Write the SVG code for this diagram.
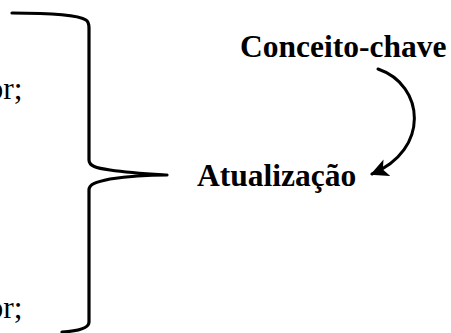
<svg xmlns="http://www.w3.org/2000/svg" width="451" height="333" viewBox="0 0 451 333">
  <defs>
    <style>
      .lbl { font-family: "Liberation Serif", "Times New Roman", serif; font-size: 31.5px; fill: #000; }
      .bold { font-weight: bold; }
      .stroke { fill: none; stroke: #000; stroke-linecap: round; stroke-linejoin: round; }
    </style>
    <marker id="arrowhead" viewBox="0 0 10 10" refX="9" refY="5" markerWidth="6" markerHeight="6" orient="auto" markerUnits="strokeWidth">
      <path d="M0,0 L10,5 L0,10 L2.5,5 Z" fill="#000"/>
    </marker>
  </defs>

  <!-- list items (clipped at left edge) -->
  <g id="item-top">
    <text class="lbl" x="22.5" y="99" text-anchor="end">or;</text>
  </g>
  <g id="item-bottom">
    <text class="lbl" x="22.5" y="318" text-anchor="end">or;</text>
  </g>

  <!-- right-hand curly brace -->
  <g id="brace">
    <path class="stroke" stroke-width="3.2" d="M12,13 C50,13 78,15 86,20 Q89,22 89,28 L89,160 C89,166 96,168 110,170 C130,173 150,174 167,175 C150,175 130,176 110,179 C96,182 89,184 89,190 L89,322 C89,328 80,331 62,332"/>
  </g>

  <g id="conceito-chave">
    <text class="lbl bold" x="240" y="57">Conceito-chave</text>
  </g>
  <g id="atualizacao">
    <text class="lbl bold" x="197" y="186">Atualização</text>
  </g>

  <g id="connectors">
    <path class="stroke" stroke-width="3" d="M378,69 C425,85 430,150 372,174" marker-end="url(#arrowhead)"/>
  </g>
</svg>
